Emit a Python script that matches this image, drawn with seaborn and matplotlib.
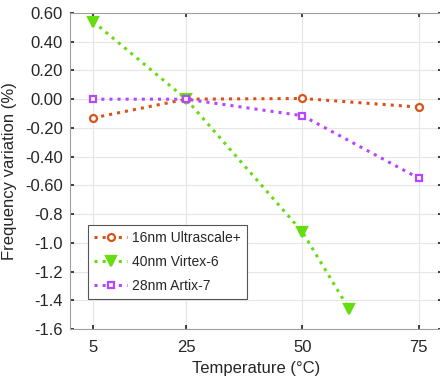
import matplotlib
matplotlib.use("Agg")
import matplotlib.pyplot as plt
import seaborn as sns
import pandas as pd

sns.set_theme(style="whitegrid")
plt.rcParams['font.family'] = ['Liberation Sans', 'DejaVu Sans']

temps_ultra = [5, 25, 50, 75]
ultra = [-0.13, 0.0, 0.005, -0.055]
temps_virtex = [5, 25, 50, 60]
virtex = [0.54, 0.0, -0.925, -1.46]
temps_artix = [5, 25, 50, 75]
artix = [0.0, 0.0, -0.115, -0.55]

names = ["16nm Ultrascale+", "40nm Virtex-6", "28nm Artix-7"]
colors = ["#D95319", "#66DD11", "#B845FF"]
markers = ["o", "v", "s"]
xticks = [5, 25, 50, 75]
yticks = [0.6, 0.4, 0.2, 0.0, -0.2, -0.4, -0.6, -0.8, -1.0, -1.2, -1.4, -1.6]
ylabels = ["0.60", "0.40", "0.20", "0.00", "-0.20", "-0.40", "-0.60",
           "-0.8", "-1.0", "-1.2", "-1.4", "-1.6"]

fig = plt.figure(figsize=(4.4, 3.78), dpi=100)
ax = fig.add_axes([0.159, 0.1296, 0.8455, 0.836])

series = [(temps_ultra, ultra), (temps_virtex, virtex), (temps_artix, artix)]
for (xs, ys), name, c, m in zip(series, names, colors, markers):
    df = pd.DataFrame({"x": xs, "y": ys})
    face = c if m == "v" else "white"
    sns.lineplot(data=df, x="x", y="y", ax=ax, color=c, linestyle=":",
                 linewidth=2.2, marker=m, markersize=5 if m != "v" else 7,
                 markerfacecolor=face, markeredgecolor=c, markeredgewidth=1.6,
                 label=name)

ax.set_xlim(0, 80)
ax.set_ylim(-1.6, 0.6)
ax.set_xticks(xticks)
ax.set_xticklabels([str(t) for t in xticks])
ax.set_yticks(yticks)
ax.set_yticklabels(ylabels)
ax.tick_params(axis='both', labelsize=12, colors='#262626', length=3, direction='in',
               left=True, bottom=True, top=True, right=True, pad=5)
ax.tick_params(axis='x', pad=8)
ax.grid(True, color='#E6E6E6', linewidth=0.8)
for s in ax.spines.values():
    s.set_color('#A0A0A0')
    s.set_linewidth(0.8)
ax.set_xlabel("Temperature (°C)", fontsize=12, color='#262626', labelpad=4)
ax.set_ylabel("Frequency variation (%)", fontsize=12, color='#262626', labelpad=6)

leg = ax.legend(loc='upper left', bbox_to_anchor=(0.048, 0.329), borderaxespad=0,
                fontsize=10, frameon=True, fancybox=False, framealpha=1,
                edgecolor='#555555', handlelength=2.4, handletextpad=0.3,
                borderpad=0.45, labelspacing=0.7)
leg.get_frame().set_linewidth(0.8)

fig.savefig("out.png", dpi=100)
